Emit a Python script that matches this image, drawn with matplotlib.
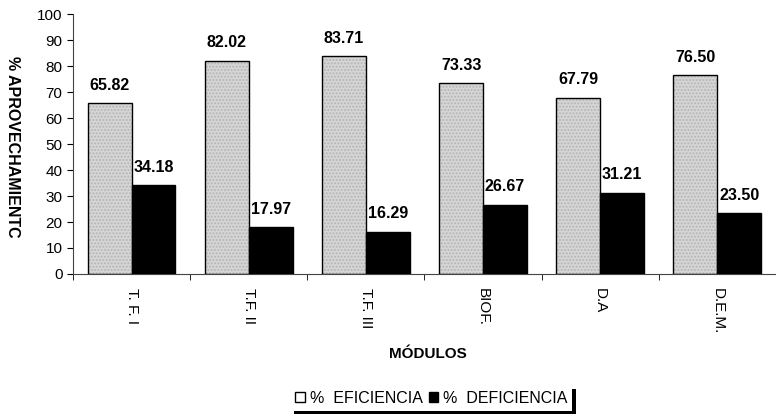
import numpy as np
import matplotlib
matplotlib.use("Agg")
import matplotlib.pyplot as plt

plt.rcParams['font.family'] = ['Liberation Sans', 'DejaVu Sans']

modulos = ['T. F. I', 'T.F. II', 'T.F. III', 'BIOF.', 'D.A', 'D.E.M.']
eficiencia = [65.82, 82.02, 83.71, 73.33, 67.79, 76.50]
deficiencia = [34.18, 17.97, 16.29, 26.67, 31.21, 23.50]

fig = plt.figure(figsize=(7.76, 4.17), dpi=100)
ax = fig.add_axes([0.094, 0.343, 0.906, 0.623])

x = np.arange(len(modulos))
w = 0.375

# barras de eficiencia con textura punteada
ax.bar(x - w / 2, eficiencia, w, color='#d6d6d6', hatch='.....',
       edgecolor='#b5b5b5', linewidth=0, zorder=2)
b1 = ax.bar(x - w / 2, eficiencia, w, facecolor='none', edgecolor='black',
            linewidth=1.0, zorder=3, label='%  EFICIENCIA')
b2 = ax.bar(x + w / 2, deficiencia, w, color='black', edgecolor='black',
            linewidth=1.0, zorder=3, label='%  DEFICIENCIA')

for xi, v in zip(x, eficiencia):
    ax.text(xi - w / 2, v + 4, f'{v:.2f}', ha='center', va='bottom',
            fontsize=11.5, fontweight='bold')
for xi, v in zip(x, deficiencia):
    ax.text(xi + w / 2, v + 4, f'{v:.2f}', ha='center', va='bottom',
            fontsize=11.5, fontweight='bold')

ax.set_xlim(-0.5, len(modulos) - 0.5)
ax.set_ylim(0, 100)
ax.set_yticks(range(0, 101, 10))
ax.tick_params(axis='y', labelsize=11, length=4, direction='out')

ax.set_xticks(x)
ax.set_xticklabels(modulos, rotation=-90, fontsize=11)
ax.tick_params(axis='x', length=0, pad=10)
ax.set_xticks(np.arange(len(modulos) + 1) - 0.5, minor=True)
ax.tick_params(axis='x', which='minor', length=4, direction='out')

for s in ['top', 'right']:
    ax.spines[s].set_visible(False)
ax.spines['left'].set_color('#444444')
ax.spines['bottom'].set_color('#444444')

fig.text(0.016, 0.647, '% APROVECHAMIENTC', rotation=-90, ha='center',
         va='center', fontsize=11.5, fontweight='bold')
fig.text(0.552, 0.151, 'MÓDULOS', ha='center', va='center',
         fontsize=11, fontweight='bold')

leg = fig.legend(handles=[b1, b2], loc='center', bbox_to_anchor=(0.556, 0.045),
                 ncol=2, frameon=True, fancybox=False, fontsize=11.5,
                 handlelength=0.6, handleheight=0.6, handletextpad=0.3,
                 columnspacing=0.4, borderpad=0.3,
                 shadow={'color': 'black', 'alpha': 1, 'shade': 1,
                         'ox': 2.5, 'oy': -2.5})
leg.get_frame().set_edgecolor('white')
leg.get_frame().set_linewidth(0)

fig.savefig('out.png', dpi=100)
